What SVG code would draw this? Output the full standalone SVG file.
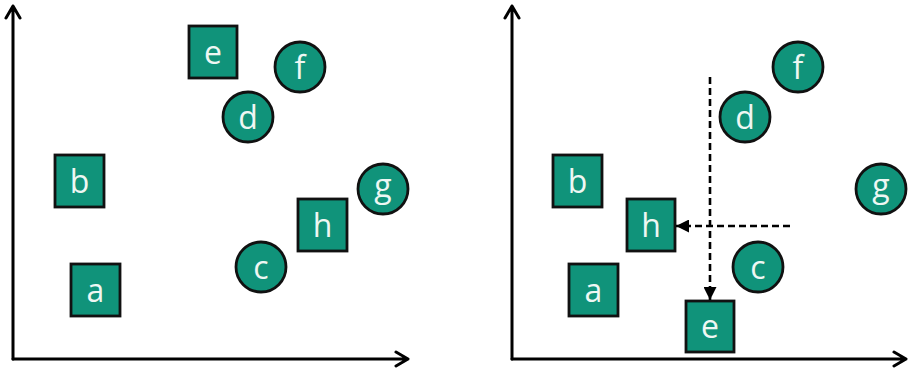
<svg xmlns="http://www.w3.org/2000/svg" width="908" height="371" viewBox="0 0 908 371">
<defs>
<style>
.n rect, .n circle { fill: #10937a; stroke: #111; stroke-width: 2.8; }
.n text { fill: #eef7f3; font-family: "Open Sans", "Liberation Sans", sans-serif; font-size: 32px; text-anchor: middle; }
.axis { stroke: #000; stroke-width: 3; fill: none; stroke-linecap: round; stroke-linejoin: round; }
.dash { stroke: #000; stroke-width: 2.6; fill: none; stroke-dasharray: 7 4; }
</style>
<marker id="tri" viewBox="0 0 10 10" refX="10" refY="5" markerWidth="14" markerHeight="13" markerUnits="userSpaceOnUse" orient="auto">
<path d="M0,0 L10,5 L0,10 Z" fill="#000"/>
</marker>
</defs>
<rect width="908" height="371" fill="#fff"/>

<g id="axes-left">
<path class="axis" d="M13,359 V6 M6,18 L13,6 L20,18"/>
<path class="axis" d="M13,359 H408 M396,352 L408,359 L396,366"/>
</g>
<g id="axes-right">
<path class="axis" d="M512,359 V6 M505,18 L512,6 L519,18"/>
<path class="axis" d="M512,359 H906 M894,352 L906,359 L894,366"/>
</g>

<g id="left-e" class="n"><rect x="189" y="26" width="48" height="52"/><text x="213" y="64">e</text></g>
<g id="left-f" class="n"><circle cx="300" cy="67" r="25"/><text x="300" y="79">f</text></g>
<g id="left-d" class="n"><circle cx="248" cy="117" r="25"/><text x="248" y="129">d</text></g>
<g id="left-b" class="n"><rect x="55" y="155" width="49" height="52"/><text x="79.5" y="193">b</text></g>
<g id="left-g" class="n"><circle cx="383" cy="189" r="25"/><text x="383" y="197">g</text></g>
<g id="left-h" class="n"><rect x="298" y="199" width="49" height="52"/><text x="322.5" y="237">h</text></g>
<g id="left-c" class="n"><circle cx="261" cy="267" r="25"/><text x="261" y="279">c</text></g>
<g id="left-a" class="n"><rect x="71" y="264" width="49" height="52"/><text x="95.5" y="302">a</text></g>

<g id="right-f" class="n"><circle cx="798" cy="67" r="25"/><text x="798" y="79">f</text></g>
<g id="right-d" class="n"><circle cx="745" cy="117" r="25"/><text x="745" y="129">d</text></g>
<g id="right-b" class="n"><rect x="553" y="155" width="49" height="52"/><text x="577.5" y="193">b</text></g>
<g id="right-g" class="n"><circle cx="881" cy="189" r="25"/><text x="881" y="197">g</text></g>
<g id="right-h" class="n"><rect x="627" y="199" width="48" height="52"/><text x="651" y="237">h</text></g>
<g id="right-c" class="n"><circle cx="758" cy="267" r="25"/><text x="758" y="279">c</text></g>
<g id="right-a" class="n"><rect x="569" y="264" width="49" height="52"/><text x="593.5" y="302">a</text></g>
<g id="right-e" class="n"><rect x="686" y="301" width="48" height="51"/><text x="710" y="338">e</text></g>

<g id="connectors">
<line class="dash" x1="710" y1="77" x2="710" y2="300" marker-end="url(#tri)"/>
<line class="dash" x1="790" y1="226" x2="676" y2="226" marker-end="url(#tri)"/>
</g>
</svg>
